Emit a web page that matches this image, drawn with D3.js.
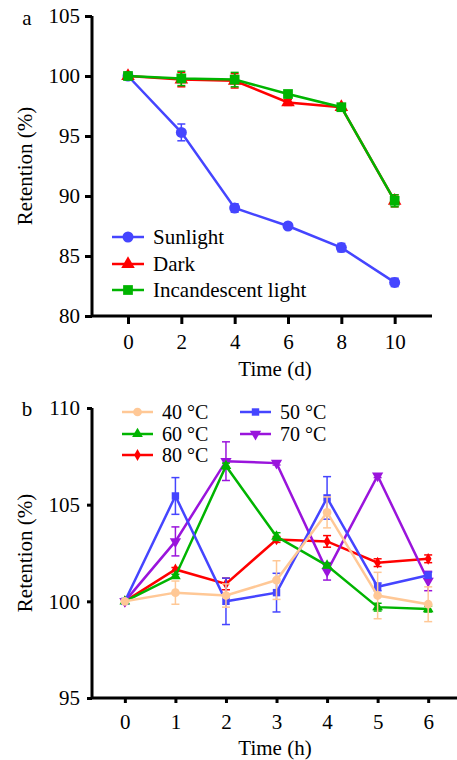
<!DOCTYPE html>
<html lang="en">
<head>
<meta charset="UTF-8">
<title>Retention</title>
<script src="https://d3js.org/d3.v7.min.js"></script>
<style>
    body { margin: 0; background: #fff; }
    svg { display: block; }
    svg text { font-family: "Liberation Serif", "Times New Roman", serif; font-size: 21px; fill: #000; }
    .axis path, .axis line { stroke: #000; stroke-width: 3px; }
</style>
</head>
<body>
<svg id="chart" width="457" height="760"></svg>
<script>
// panel a: storage under light conditions
const days = [0, 2, 4, 6, 8, 10];
const sunlight = [100, 95.3, 89.0, 87.5, 85.7, 82.8];
const sunlightErr = [0.1, 0.7, 0.35, 0.2, 0.35, 0.35];
const dark = [100, 99.7, 99.6, 97.8, 97.4, 89.6];
const darkErr = [0.1, 0.6, 0.6, 0.25, 0.2, 0.5];
const incandescent = [100, 99.8, 99.7, 98.5, 97.4, 89.6];
const incandescentErr = [0.1, 0.6, 0.6, 0.2, 0.2, 0.5];
const ticksA = [80, 85, 90, 95, 100, 105];

// panel b: temperature
const hours = [0, 1, 2, 3, 4, 5, 6];
const t40 = [100, 100.45, 100.3, 101.1, 104.6, 100.3, 99.85];
const t40Err = [0, 0.6, 0.6, 1.0, 0.8, 1.2, 0.9];
const t50 = [100, 105.45, 100.0, 100.45, 105.35, 100.75, 101.35];
const t50Err = [0, 0.95, 1.2, 1.0, 1.1, 0.2, 0.15];
const t60 = [100, 101.3, 107.0, 103.35, 101.85, 99.7, 99.6];
const t60Err = [0, 0.1, 0.15, 0.2, 0.1, 0.2, 0.15];
const t70 = [100, 103.1, 107.25, 107.15, 101.55, 106.5, 101.05];
const t70Err = [0, 0.75, 1.0, 0.1, 0.45, 0.1, 0.5];
const t80 = [100, 101.65, 100.9, 103.2, 103.1, 102.0, 102.2];
const t80Err = [0, 0.1, 0.3, 0.15, 0.3, 0.2, 0.2];
const ticksB = [95, 100, 105, 110];

const svg = d3.select("#chart");
const serif = "'Liberation Serif', 'Times New Roman', serif";

function drawSeries(g, x, y, xs, vals, errs, color, symbol, size, cap, width, rot) {
    const pts = xs.map((d, i) => ({ x: d, v: vals[i], e: errs[i] }));
    const s = g.append("g");
    // error bars
    pts.filter(p => p.e > 0).forEach(p => {
        s.append("line").attr("x1", x(p.x)).attr("x2", x(p.x))
            .attr("y1", y(p.v + p.e)).attr("y2", y(p.v - p.e))
            .attr("stroke", color).attr("stroke-width", 1.5);
        [p.v + p.e, p.v - p.e].forEach(v => {
            s.append("line").attr("x1", x(p.x) - cap).attr("x2", x(p.x) + cap)
                .attr("y1", y(v)).attr("y2", y(v))
                .attr("stroke", color).attr("stroke-width", 1.5);
        });
    });
    s.append("path").datum(pts)
        .attr("fill", "none").attr("stroke", color).attr("stroke-width", width)
        .attr("d", d3.line().x(p => x(p.x)).y(p => y(p.v)));
    s.selectAll("path.m").data(pts).join("path").attr("class", "m")
        .attr("transform", p => `translate(${x(p.x)},${y(p.v)})` + (rot ? " rotate(180)" : ""))
        .attr("d", d3.symbol().type(symbol).size(size))
        .attr("fill", color);
}

function legendItem(g, lx, ly, color, symbol, size, label, len, width, rot, fs) {
    g.append("line").attr("x1", lx).attr("x2", lx + len).attr("y1", ly).attr("y2", ly)
        .attr("stroke", color).attr("stroke-width", width);
    g.append("path").attr("transform", `translate(${lx + len / 2},${ly})` + (rot ? " rotate(180)" : ""))
        .attr("d", d3.symbol().type(symbol).size(size)).attr("fill", color);
    g.append("text").attr("x", lx + len + 9).attr("y", ly).attr("dy", "0.33em")
        .style("font-family", serif).style("font-size", (fs || 21) + "px").text(label);
}

function label(g, x, y, txt, rotate) {
    const t = g.append("text").attr("text-anchor", "middle").style("font-family", serif).text(txt);
    if (rotate) t.attr("transform", `translate(${x},${y}) rotate(-90)`);
    else t.attr("x", x).attr("y", y);
}

// ---------- panel a ----------
const xa = d3.scaleLinear().domain([-1.35, 11.4]).range([92, 432]);
const ya = d3.scaleLinear().domain([80, 105]).range([316, 16]);
const ga = svg.append("g");

ga.append("g").attr("class", "axis").attr("transform", "translate(92,0)")
    .call(d3.axisLeft(ya).tickValues(ticksA).tickSize(7).tickPadding(5).tickSizeOuter(0))
    .call(g => g.select(".domain").attr("d", `M0,${ya(80)}V${ya(105)}`));
ga.append("g").attr("class", "axis").attr("transform", "translate(0,316)")
    .call(d3.axisBottom(xa).tickValues(days).tickSize(8).tickPadding(10).tickSizeOuter(0))
    .call(g => g.select(".domain").attr("d", `M92,0H432`));

drawSeries(ga, xa, ya, days, sunlight, sunlightErr, "#4545ff", d3.symbolCircle, 95, 4, 2.5);
drawSeries(ga, xa, ya, days, dark, darkErr, "#ff0000", d3.symbolTriangle, 80, 4, 2.5);
drawSeries(ga, xa, ya, days, incandescent, incandescentErr, "#00b400", d3.symbolSquare, 95, 4, 2.5);

legendItem(ga, 112, 237, "#4545ff", d3.symbolCircle, 95, "Sunlight", 32, 2.5);
legendItem(ga, 112, 264, "#ff0000", d3.symbolTriangle, 80, "Dark", 32, 2.5);
legendItem(ga, 112, 290, "#00b400", d3.symbolSquare, 95, "Incandescent light", 32, 2.5);

label(ga, 27, 25, "a");
label(ga, 32, 166, "Retention (%)", true);
label(ga, 275, 376, "Time (d)");

// ---------- panel b ----------
const xb = d3.scaleLinear().domain([-0.65, 6.57]).range([92, 457]);
const yb = d3.scaleLinear().domain([95, 110]).range([698, 408]);
const gb = svg.append("g");

gb.append("g").attr("class", "axis").attr("transform", "translate(92,0)")
    .call(d3.axisLeft(yb).tickValues(ticksB).tickSize(5).tickPadding(7).tickSizeOuter(0))
    .call(g => g.select(".domain").attr("d", `M0,${yb(95)}V${yb(110)}`));
gb.append("g").attr("class", "axis").attr("transform", "translate(0,698)")
    .call(d3.axisBottom(xb).tickValues(hours).tickSize(5).tickPadding(11).tickSizeOuter(0))
    .call(g => g.select(".domain").attr("d", `M92,0H457`));

svg.selectAll(".axis text").style("font-family", serif).style("font-size", "21px");

const colB = { t40: "#ffc896", t50: "#4545ff", t60: "#00b400", t70: "#9a14dc", t80: "#ff0000" };
drawSeries(gb, xb, yb, hours, t80, t80Err, colB.t80, d3.symbolDiamond, 40, 4, 2.5);
drawSeries(gb, xb, yb, hours, t70, t70Err, colB.t70, d3.symbolTriangle, 55, 4, 2.5, true);
drawSeries(gb, xb, yb, hours, t60, t60Err, colB.t60, d3.symbolTriangle, 50, 4, 2.5);
drawSeries(gb, xb, yb, hours, t50, t50Err, colB.t50, d3.symbolSquare, 55, 4, 2.5);
drawSeries(gb, xb, yb, hours, t40, t40Err, colB.t40, d3.symbolCircle, 60, 4, 2.5);

legendItem(gb, 122, 412, colB.t40, d3.symbolCircle, 60, "40 °C", 31, 2.5, false, 20);
legendItem(gb, 240, 412, colB.t50, d3.symbolSquare, 55, "50 °C", 31, 2.5, false, 20);
legendItem(gb, 122, 434, colB.t60, d3.symbolTriangle, 50, "60 °C", 31, 2.5, false, 20);
legendItem(gb, 240, 434, colB.t70, d3.symbolTriangle, 55, "70 °C", 31, 2.5, true, 20);
legendItem(gb, 122, 455, colB.t80, d3.symbolDiamond, 40, "80 °C", 31, 2.5, false, 20);

label(gb, 27, 416, "b");
label(gb, 32, 553, "Retention (%)", true);
label(gb, 275, 755, "Time (h)");
</script>
</body>
</html>
